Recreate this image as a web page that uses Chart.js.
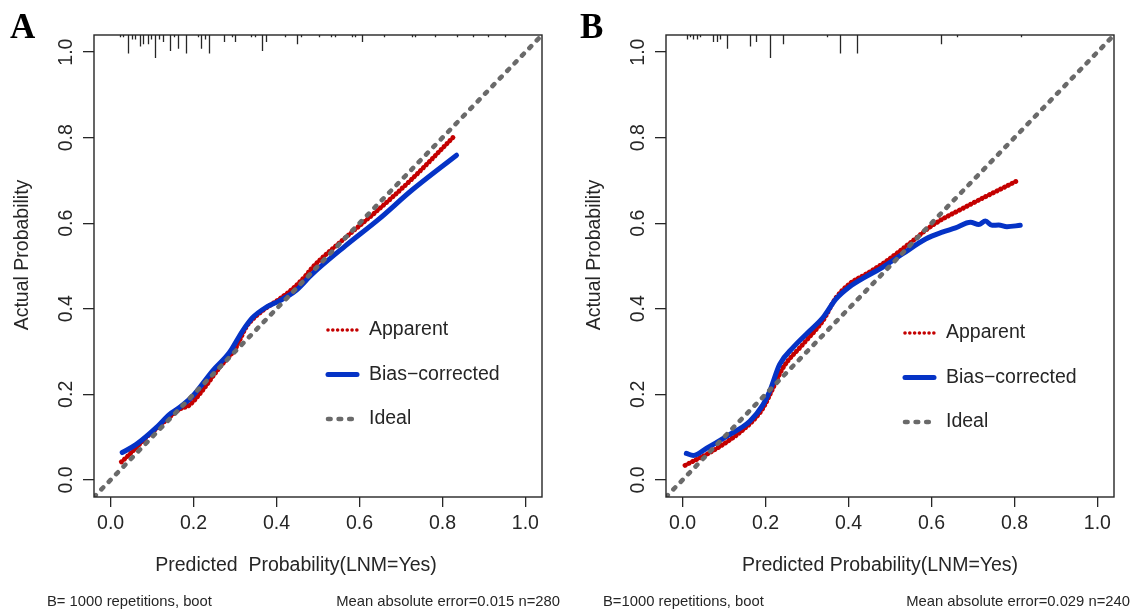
<!DOCTYPE html>
<html>
<head>
<meta charset="utf-8">
<script src="https://cdn.jsdelivr.net/npm/chart.js@4.4.1/dist/chart.umd.min.js"></script>
<style>
  html, body { margin: 0; padding: 0; background: #fff; }
  #wrap { position: relative; width: 1135px; height: 610px; }
  canvas { position: absolute; top: 0; }
  #panelA { left: 0; }
  #panelB { left: 567px; }
</style>
</head>
<body>
<div id="wrap">
  <canvas id="panelA" width="567" height="610"></canvas>
  <canvas id="panelB" width="568" height="610"></canvas>
</div>
<script>
// axis range (R pads 0..1 by 4%) and ticks
const axisRange = [-0.04, 1.04];
const tickValues = [0, 0.2, 0.4, 0.6, 0.8, 1.0];
const legendLabels = ["Apparent", "Bias\u2212corrected", "Ideal"];

// panel A - calibration curves
const appAx = [0.026, 0.046, 0.086, 0.118, 0.150, 0.166, 0.190, 0.214, 0.262, 0.302, 0.326, 0.342, 0.374, 0.406, 0.438, 0.470, 0.486, 0.566, 0.646, 0.726, 0.830];
const appAy = [0.042, 0.060, 0.099, 0.126, 0.153, 0.165, 0.175, 0.200, 0.262, 0.309, 0.356, 0.375, 0.401, 0.422, 0.446, 0.477, 0.496, 0.566, 0.632, 0.703, 0.805];
const bcAx = [0.028, 0.062, 0.110, 0.142, 0.166, 0.198, 0.246, 0.286, 0.318, 0.342, 0.374, 0.406, 0.446, 0.486, 0.566, 0.646, 0.726, 0.834];
const bcAy = [0.064, 0.083, 0.122, 0.153, 0.169, 0.196, 0.255, 0.297, 0.348, 0.379, 0.403, 0.418, 0.442, 0.481, 0.547, 0.609, 0.677, 0.759];
// panel A - rug of predicted probabilities (value, relative frequency)
const rugAx = [0.023, 0.030, 0.043, 0.052, 0.060, 0.070, 0.078, 0.089, 0.098, 0.108, 0.116, 0.126, 0.144, 0.154, 0.162, 0.182, 0.210, 0.218, 0.228, 0.237, 0.274, 0.292, 0.301, 0.338, 0.347, 0.366, 0.374, 0.421, 0.450, 0.458, 0.503, 0.531, 0.540, 0.582, 0.590, 0.606, 0.658, 0.727, 0.735, 0.782, 0.836, 0.874, 0.910, 0.950];
const rugAn = [1, 1, 8, 2, 2, 5, 4, 4, 2, 10, 2, 3, 7, 1, 6, 8, 1, 6, 2, 8, 3, 1, 3, 1, 1, 7, 3, 1, 4, 1, 1, 1, 1, 1, 1, 3, 1, 1, 1, 1, 1, 1, 1, 1];
const footA = ["B= 1000 repetitions, boot", "Mean absolute error=0.015 n=280"];
const xTitleA = "Predicted  Probability(LNM=Yes)";

// panel B
const appBx = [0.006, 0.083, 0.162, 0.194, 0.218, 0.242, 0.290, 0.338, 0.370, 0.402, 0.442, 0.482, 0.546, 0.602, 0.682, 0.806];
const appBy = [0.034, 0.074, 0.131, 0.168, 0.215, 0.262, 0.317, 0.372, 0.426, 0.458, 0.481, 0.505, 0.552, 0.595, 0.638, 0.699];
const bcBx = [0.009, 0.026, 0.058, 0.106, 0.162, 0.194, 0.210, 0.234, 0.266, 0.306, 0.338, 0.370, 0.402, 0.442, 0.482, 0.530, 0.586, 0.626, 0.658, 0.694, 0.714, 0.730, 0.746, 0.762, 0.782, 0.814];
const bcBy = [0.062, 0.057, 0.074, 0.102, 0.137, 0.176, 0.207, 0.270, 0.309, 0.348, 0.379, 0.423, 0.451, 0.475, 0.497, 0.528, 0.563, 0.579, 0.589, 0.602, 0.597, 0.605, 0.595, 0.596, 0.592, 0.595];
const rugBx = [0.010, 0.018, 0.026, 0.034, 0.042, 0.074, 0.082, 0.090, 0.106, 0.162, 0.178, 0.211, 0.243, 0.347, 0.379, 0.421, 0.622, 0.662, 0.815];
const rugBn = [2, 1, 2, 2, 1, 3, 3, 2, 6, 5, 3, 10, 4, 1, 8, 8, 4, 1, 1];
const footB = ["B=1000 repetitions, boot", "Mean absolute error=0.029 n=240"];
const xTitleB = "Predicted Probability(LNM=Yes)";

const FONT = '"Liberation Sans", Arial, sans-serif';
const RED = "#c40000";
const BLUE = "#0533c6";
const GREY = "#6a6a6a";
const INK = "#262626";

function pts(xs, ys) {
  return xs.map((x, i) => ({ x: x, y: ys[i] }));
}

// box, rug, rotated y labels, legend, titles and footnotes
function decor(p) {
  return {
    id: "decor",
    afterDraw(chart) {
      const c = chart.ctx;
      const a = chart.chartArea;
      const sx = chart.scales.x, sy = chart.scales.y;
      c.save();
      c.strokeStyle = INK;
      c.lineWidth = 1.4;
      c.strokeRect(a.left, a.top, a.right - a.left, a.bottom - a.top);

      // rug
      c.lineWidth = 1.3;
      c.beginPath();
      p.rugX.forEach((v, i) => {
        const x = Math.round(sx.getPixelForValue(v)) + 0.5;
        c.moveTo(x, a.top);
        c.lineTo(x, a.top + p.rugN[i] * 2.3);
      });
      c.stroke();

      // y tick labels, rotated like R
      c.fillStyle = INK;
      c.font = "19.5px " + FONT;
      c.textAlign = "center";
      c.textBaseline = "alphabetic";
      tickValues.forEach(v => {
        c.save();
        c.translate(a.left - 22, sy.getPixelForValue(v));
        c.rotate(-Math.PI / 2);
        c.fillText(v.toFixed(1), 0, 0);
        c.restore();
      });

      // y title
      c.save();
      c.translate(a.left - 66, 255);
      c.rotate(-Math.PI / 2);
      c.fillText("Actual Probability", 0, 0);
      c.restore();

      // x title
      c.textBaseline = "middle";
      c.fillText(p.xTitle, p.xTitleX, 566);

      // legend
      chart.data.datasets.forEach((ds, i) => {
        const y = a.top + p.legY + i * 44.5;
        c.save();
        c.strokeStyle = ds.borderColor;
        c.lineWidth = i === 0 ? 3.6 : ds.borderWidth;
        c.lineCap = "round";
        c.setLineDash(i === 0 ? [0.01, 4.8] : (ds.borderDash || []));
        c.beginPath();
        c.moveTo(a.left + p.legX, y);
        c.lineTo(a.left + p.legX + 29, y);
        c.stroke();
        c.restore();
        c.textAlign = "left";
        c.fillText(ds.label, a.left + p.legX + 41, y);
      });

      // footnotes
      c.font = "14.8px " + FONT;
      c.textBaseline = "alphabetic";
      c.textAlign = "left";
      c.fillText(p.foot[0], p.footL, 606);
      c.textAlign = "right";
      c.fillText(p.foot[1], p.footR, 606);

      // panel letter
      c.font = "bold 35px 'Liberation Serif', 'Times New Roman', serif";
      c.textAlign = "left";
      c.fillStyle = "#000";
      c.fillText(p.letter, p.letterX, 38);
      c.restore();
    }
  };
}

function makePanel(id, p) {
  const ctx = document.getElementById(id);
  return new Chart(ctx, {
    type: "scatter",
    data: {
      datasets: [
        {
          label: legendLabels[0],
          data: pts(p.appX, p.appY),
          showLine: true,
          borderColor: RED,
          borderWidth: 5,
          borderDash: [0.01, 4.2],
          borderCapStyle: "round",
          pointRadius: 0,
          cubicInterpolationMode: "monotone",
          order: 3
        },
        {
          label: legendLabels[1],
          data: pts(p.bcX, p.bcY),
          showLine: true,
          borderColor: BLUE,
          borderWidth: 5,
          borderCapStyle: "round",
          borderJoinStyle: "round",
          pointRadius: 0,
          cubicInterpolationMode: "monotone",
          order: 2
        },
        {
          label: legendLabels[2],
          data: pts(axisRange, axisRange),
          showLine: true,
          borderColor: GREY,
          borderWidth: 4.6,
          borderDash: [2.6, 8],
          borderCapStyle: "round",
          pointRadius: 0,
          order: 1
        }
      ]
    },
    options: {
      responsive: false,
      animation: false,
      devicePixelRatio: 1,
      layout: { padding: { top: 35, right: p.padRight, left: 0, bottom: 0 } },
      plugins: { legend: { display: false }, tooltip: { enabled: false } },
      scales: {
        x: {
          type: "linear",
          min: axisRange[0],
          max: axisRange[1],
          afterBuildTicks: s => { s.ticks = tickValues.map(v => ({ value: v })); },
          afterFit: s => { s.height = 113; },
          grid: { drawOnChartArea: false, drawTicks: true, tickLength: 10, color: INK, lineWidth: 1.3 },
          border: { display: false },
          ticks: {
            font: { family: FONT, size: 19.5 },
            color: INK,
            padding: 5,
            maxRotation: 0,
            callback: v => v.toFixed(1)
          }
        },
        y: {
          type: "linear",
          min: axisRange[0],
          max: axisRange[1],
          afterBuildTicks: s => { s.ticks = tickValues.map(v => ({ value: v })); },
          afterFit: s => { s.width = p.yWidth; },
          grid: { drawOnChartArea: false, drawTicks: true, tickLength: 11, color: INK, lineWidth: 1.3 },
          border: { display: false },
          ticks: { display: false }
        }
      }
    },
    plugins: [decor(p)]
  });
}

makePanel("panelA", {
  appX: appAx, appY: appAy, bcX: bcAx, bcY: bcAy,
  rugX: rugAx, rugN: rugAn, foot: footA, xTitle: xTitleA,
  yWidth: 94, padRight: 25, legX: 234, legY: 295,
  xTitleX: 296, footL: 47, footR: 560, letter: "A", letterX: 10
});

makePanel("panelB", {
  appX: appBx, appY: appBy, bcX: bcBx, bcY: bcBy,
  rugX: rugBx, rugN: rugBn, foot: footB, xTitle: xTitleB,
  yWidth: 99, padRight: 21, legX: 239, legY: 298,
  xTitleX: 313, footL: 36, footR: 563, letter: "B", letterX: 13
});
</script>
</body>
</html>
